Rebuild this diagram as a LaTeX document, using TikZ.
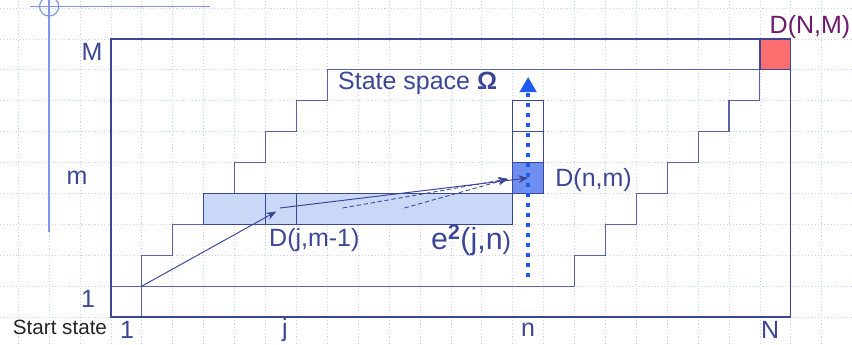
\documentclass[tikz,border=0pt]{standalone}
\usepackage{fontspec}
\setmainfont{Liberation Sans}
\usetikzlibrary{arrows.meta,positioning}
\definecolor{navy}{HTML}{3C4696}
\definecolor{gridc}{HTML}{C9D2F2}
\definecolor{barfill}{HTML}{CAD8F8}
\definecolor{cellfill}{HTML}{6E8EF0}
\definecolor{endfill}{HTML}{FF6E6E}
\definecolor{dotblue}{HTML}{1F5BEF}
\definecolor{tmpl}{HTML}{7F97EA}
\definecolor{endtext}{HTML}{6C1A6C}
\tikzset{
  arrow/.style     = {-{Stealth[length=9pt, width=7pt]}, line width=0.9pt, navy},
  dasharrow/.style = {-{Stealth[length=9pt, width=7pt]}, line width=0.8pt,
                      navy, dash pattern=on 4pt off 2.5pt},
  dotarrow/.style  = {-{Triangle[length=14pt, width=15pt]}, dotblue,
                      line width=3.6pt, dash pattern=on 3.7pt off 5.5pt},
  gridline/.style  = {gridc, line width=0.7pt, dash pattern=on 1pt off 2pt},
  frame/.style     = {draw=navy, line width=1.1pt},
  stairs/.style    = {draw=navy!85, line width=1pt},
  cell/.style      = {draw=navy, line width=1.1pt, minimum size=1cm,
                      inner sep=0pt},
  lbl/.style       = {font=\fontsize{23}{26}\selectfont, text=navy,
                      inner sep=1pt},
}

\begin{document}
\begin{tikzpicture}

    \useasboundingbox (-3.59,-0.874) rectangle (23.98,10.26);

    % Background grid
    \foreach \x in {-3,...,24} {
        \draw[gridline] (\x,-0.874) -- (\x,10.26);
    }
    \foreach \y in {0,...,10} {
        \draw[gridline] (-3.59,\y) -- (23.98,\y);
    }

    % Slide decoration
    \draw[tmpl, line width=1.3pt] (-2.62,10.05) -- (3.2,10.05);
    \draw[tmpl, line width=1.3pt] (-2,10.26) -- (-2,2.75);
    \draw[tmpl, line width=1.1pt] (-2,10.05) circle (0.31);

    % Row m-1 band
    \node[draw=navy, line width=1.1pt, fill=barfill, minimum width=10cm,
          minimum height=1cm, inner sep=0pt] (band) at (8,3.5) {};

    % Staircase of the state space
    \draw[stairs] (1,0) -- (1,2) -- (2,2) -- (2,3) -- (3,3);
    \draw[stairs] (4,4) -- (4,5) -- (5,5) -- (5,6) -- (6,6) -- (6,7)
        -- (7,7) -- (7,8) -- (22,8);
    \draw[stairs] (0,1) -- (15,1) -- (15,2) -- (16,2) -- (16,3) -- (17,3)
        -- (17,4) -- (18,4) -- (18,5) -- (19,5) -- (19,6) -- (20,6)
        -- (20,7) -- (21,7) -- (21,8);

    % Cells
    \node[cell, fill=barfill] (cellj) at (5.5,3.5) {};
    \node[cell, fill=cellfill] (cellnm) at (13.5,4.5) {};
    \node[cell] (celltwo) at (13.5,5.5) {};
    \node[cell] (cellthree) at (13.5,6.5) {};
    \node[cell, fill=endfill] (cellend) at (21.5,8.5) {};

    % Outer frame
    \draw[frame] (0,0) rectangle (22,9);

    % Search direction
    \coordinate (dotbot) at (13.5,1.29);
    \coordinate (dottop) at (13.5,7.77);
    \draw[dotarrow] (dotbot) -- (dottop);

    % Transitions
    \coordinate (start) at (1,1);
    \coordinate (fromA) at (7.5,3.53);
    \coordinate (fromB) at (9.5,3.53);
    \coordinate (dtip)  at (12.85,4.47);
    \draw[arrow, shorten >=5pt] (start) -- (cellj.center);
    \draw[arrow] (5.47,3.53) -- (cellnm.center);
    \draw[dasharrow] (fromA) -- (dtip);
    \draw[dasharrow] (fromB) -- (dtip);

    % Axis labels
    \node[lbl] (rowM) at (-0.61,8.58) {M};
    \node[lbl] (rowm) at (-1.1,4.5) {m};
    \node[lbl] (rowone) at (-0.74,0.58) {1};
    \node[lbl, font=\fontsize{19}{22}\selectfont, text=black!85]
        (startlbl) at (-1.65,-0.32) {Start state};
    \node[lbl] (colone) at (0.52,-0.42) {1};
    \node[lbl] (colj) at (5.63,-0.42) {j};
    \node[lbl] (coln) at (13.5,-0.42) {n};
    \node[lbl] (colN) at (21.33,-0.42) {N};

    % Cell labels
    \node[lbl, text=endtext, anchor=south] (endlbl) at (22.62,8.98) {D(N,M)};
    \node[lbl, anchor=west] (spacelbl) at (7.31,7.57) {State space \textbf{Ω}};
    \node[lbl, anchor=west] (nmlbl) at (14.34,4.43) {D(n,m)};
    \node[lbl, anchor=west] (jlbl) at (5.08,2.49) {D(j,m-1)};
    \node[lbl, anchor=west, font=\fontsize{28}{32}\selectfont]
        (costlbl) at (10.32,2.49)
        {e\textsuperscript{\textbf{2}}(j,n{\fontsize{23}{26}\selectfont )}};

\end{tikzpicture}
\end{document}
